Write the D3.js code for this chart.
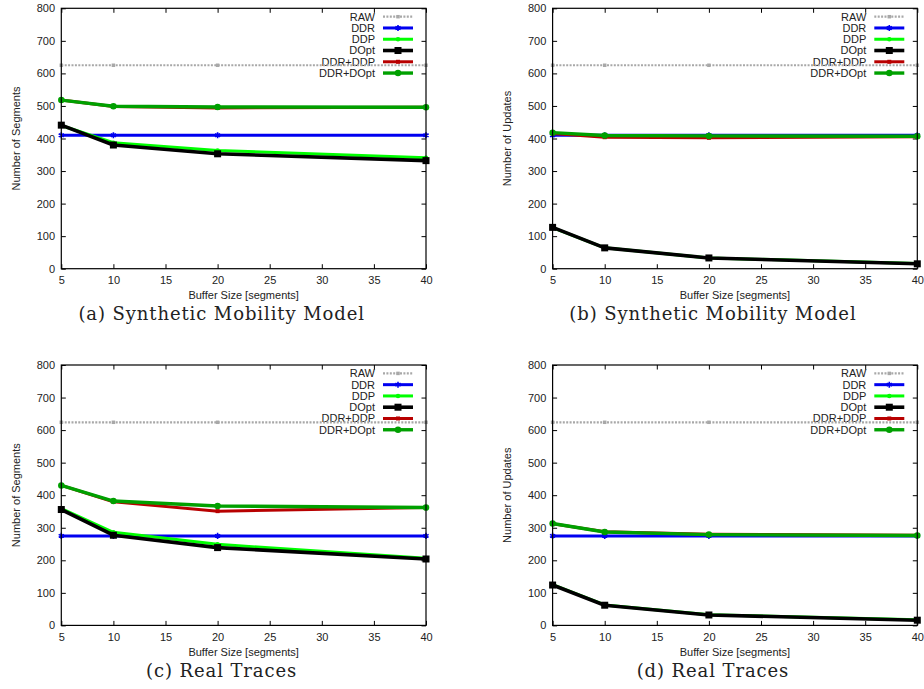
<!DOCTYPE html>
<html>
<head>
<meta charset="utf-8">
<script src="https://cdn.jsdelivr.net/npm/d3@7"></script>
<style>
  html, body { margin: 0; padding: 0; background: #ffffff; }
  svg { display: block; }
</style>
</head>
<body>
<script>
// ---------- data ----------
const bufferSizes = [5, 10, 20, 40];
const xTickValues = [5, 10, 15, 20, 25, 30, 35, 40];
const yTickValues = [0, 100, 200, 300, 400, 500, 600, 700, 800];
const seriesNames = ["RAW", "DDR", "DDP", "DOpt", "DDR+DDP", "DDR+DOpt"];

// (a) Synthetic Mobility Model - Number of Segments
const synthSegRAW     = [625, 625, 625, 625];
const synthSegDDR     = [410, 410, 410, 410];
const synthSegDDP     = [440, 387, 363, 341];
const synthSegDOpt    = [441, 380, 353, 332];
const synthSegDDRDDP  = [518, 498, 494, 496];
const synthSegDDRDOpt = [518, 499, 497, 496];

// (b) Synthetic Mobility Model - Number of Updates
const synthUpdRAW     = [625, 625, 625, 625];
const synthUpdDDR     = [410, 410, 410, 410];
const synthUpdDDP     = [126, 64, 33, 16];
const synthUpdDOpt    = [127, 64, 33, 15];
const synthUpdDDRDDP  = [415, 404, 402, 405];
const synthUpdDDRDOpt = [418, 409, 408, 407];

// (c) Real Traces - Number of Segments
const realSegRAW     = [624, 624, 624, 624];
const realSegDDR     = [275, 275, 275, 275];
const realSegDDP     = [359, 286, 249, 206];
const realSegDOpt    = [356, 277, 239, 204];
const realSegDDRDDP  = [430, 380, 351, 362];
const realSegDDRDOpt = [430, 382, 367, 362];

// (d) Real Traces - Number of Updates
const realUpdRAW     = [624, 624, 624, 624];
const realUpdDDR     = [275, 275, 275, 275];
const realUpdDDP     = [125, 63, 33, 17];
const realUpdDOpt    = [124, 62, 32, 16];
const realUpdDDRDDP  = [312, 288, 280, 277];
const realUpdDDRDOpt = [313, 287, 279, 276];

const panelCaptions = ["(a) Synthetic Mobility Model", "(b) Synthetic Mobility Model",
                       "(c) Real Traces", "(d) Real Traces"];
const yTitles = ["Number of Segments", "Number of Updates", "Number of Segments", "Number of Updates"];
const xTitle = "Buffer Size [segments]";

// ---------- styles ----------
const styles = [
  { color: "#a8a8a8", width: 2.2, dash: "2,1.4", marker: "square", msize: 3.5 },
  { color: "#0000f0", width: 3,   dash: null,    marker: "asterisk", msize: 5 },
  { color: "#00ff00", width: 3,   dash: null,    marker: "circle", msize: 4.5 },
  { color: "#000000", width: 3.6, dash: null,    marker: "square", msize: 7 },
  { color: "#b80000", width: 3,   dash: null,    marker: "square", msize: 4 },
  { color: "#00a000", width: 3.4, dash: null,    marker: "circle", msize: 6.5 }
];

const W = 924, H = 689;
const pw = 364.7, ph = 260.4;
const panels = [
  { left: 61.3,  top: 8.3,   data: [synthSegRAW, synthSegDDR, synthSegDDP, synthSegDOpt, synthSegDDRDDP, synthSegDDRDOpt] },
  { left: 552.6, top: 8.3,   data: [synthUpdRAW, synthUpdDDR, synthUpdDDP, synthUpdDOpt, synthUpdDDRDDP, synthUpdDDRDOpt] },
  { left: 61.3,  top: 365.0, data: [realSegRAW, realSegDDR, realSegDDP, realSegDOpt, realSegDDRDDP, realSegDDRDOpt] },
  { left: 552.6, top: 365.0, data: [realUpdRAW, realUpdDDR, realUpdDDP, realUpdDOpt, realUpdDDRDDP, realUpdDDRDOpt] }
];

const svg = d3.select("body").append("svg").attr("width", W).attr("height", H);
svg.append("rect").attr("width", W).attr("height", H).attr("fill", "#fff");

const sansFont = "'Liberation Sans', Arial, Helvetica, sans-serif";

function drawMarker(sel, kind, size, color, cx, cy) {
  if (kind === "circle") {
    sel.append("circle").attr("cx", cx).attr("cy", cy).attr("r", size / 2).attr("fill", color);
  } else if (kind === "square") {
    sel.append("rect").attr("x", cx - size / 2).attr("y", cy - size / 2)
      .attr("width", size).attr("height", size).attr("fill", color);
  } else if (kind === "asterisk") {
    sel.append("path")
      .attr("transform", `translate(${cx},${cy})`)
      .attr("d", d3.symbol().type(d3.symbolAsterisk).size(size * size)())
      .attr("fill", "none").attr("stroke", color).attr("stroke-width", 1.6);
  }
}

panels.forEach((p, pi) => {
  const g = svg.append("g").attr("transform", `translate(${p.left},${p.top})`);
  const x = d3.scaleLinear().domain([5, 40]).range([0, pw]);
  const y = d3.scaleLinear().domain([0, 800]).range([ph, 0]);

  // axes with inward ticks
  const bottom = g.append("g").attr("transform", `translate(0,${ph})`)
    .call(d3.axisBottom(x).tickValues(xTickValues).tickSizeInner(-4.5).tickSizeOuter(0).tickPadding(7.5));
  const top = g.append("g")
    .call(d3.axisTop(x).tickValues(xTickValues).tickSizeInner(-4.5).tickSizeOuter(0).tickFormat(""));
  const left = g.append("g")
    .call(d3.axisLeft(y).tickValues(yTickValues).tickSizeInner(-4.5).tickSizeOuter(0).tickPadding(6.3));
  const right = g.append("g").attr("transform", `translate(${pw},0)`)
    .call(d3.axisRight(y).tickValues(yTickValues).tickSizeInner(-4.5).tickSizeOuter(0).tickFormat(""));
  [bottom, top, left, right].forEach(a => {
    a.select(".domain").remove();
    a.selectAll("line").attr("stroke", "#000").attr("stroke-width", 1);
    a.selectAll("text").attr("font-family", sansFont).attr("font-size", 11).attr("fill", "#222");
  });

  // legend
  const legend = g.append("g");
  seriesNames.forEach((name, i) => {
    const ly = 8.4 + i * 11.27;
    const st = styles[i];
    legend.append("text").attr("x", pw - 51).attr("y", ly).attr("dy", "0.36em")
      .attr("text-anchor", "end").attr("font-family", sansFont).attr("font-size", 11)
      .attr("fill", "#222").text(name);
    legend.append("line").attr("x1", pw - 43).attr("x2", pw - 13).attr("y1", ly).attr("y2", ly)
      .attr("stroke", st.color).attr("stroke-width", st.width)
      .attr("stroke-dasharray", st.dash);
    drawMarker(legend, st.marker, st.msize, st.color, pw - 28, ly);
  });

  // series
  const line = d3.line().x((d, i) => x(bufferSizes[i])).y(d => y(d));
  p.data.forEach((vals, si) => {
    const st = styles[si];
    g.append("path").datum(vals).attr("d", line).attr("fill", "none")
      .attr("stroke", st.color).attr("stroke-width", st.width)
      .attr("stroke-linejoin", "round")
      .attr("stroke-dasharray", st.dash);
    const mg = g.append("g");
    vals.forEach((v, i) => drawMarker(mg, st.marker, st.msize, st.color, x(bufferSizes[i]), y(v)));
  });

  // frame
  g.append("rect").attr("width", pw).attr("height", ph).attr("fill", "none")
    .attr("stroke", "#000").attr("stroke-width", 1.2);

  // axis titles
  g.append("text").attr("x", pw / 2).attr("y", ph + 30.3).attr("text-anchor", "middle")
    .attr("font-family", sansFont).attr("font-size", 11).attr("fill", "#222").text(xTitle);
  g.append("text").attr("transform", `translate(-41.6,${ph / 2}) rotate(-90)`)
    .attr("text-anchor", "middle").attr("font-family", sansFont).attr("font-size", 11)
    .attr("fill", "#222").text(yTitles[pi]);

  // caption
  g.append("text").attr("x", pw / 2 - 22).attr("y", ph + 51.5).attr("text-anchor", "middle")
    .attr("font-family", "'DejaVu Serif', 'Liberation Serif', serif").attr("font-size", 18)
    .attr("letter-spacing", "0.9px").attr("fill", "#222").text(panelCaptions[pi]);
});
</script>
</body>
</html>
